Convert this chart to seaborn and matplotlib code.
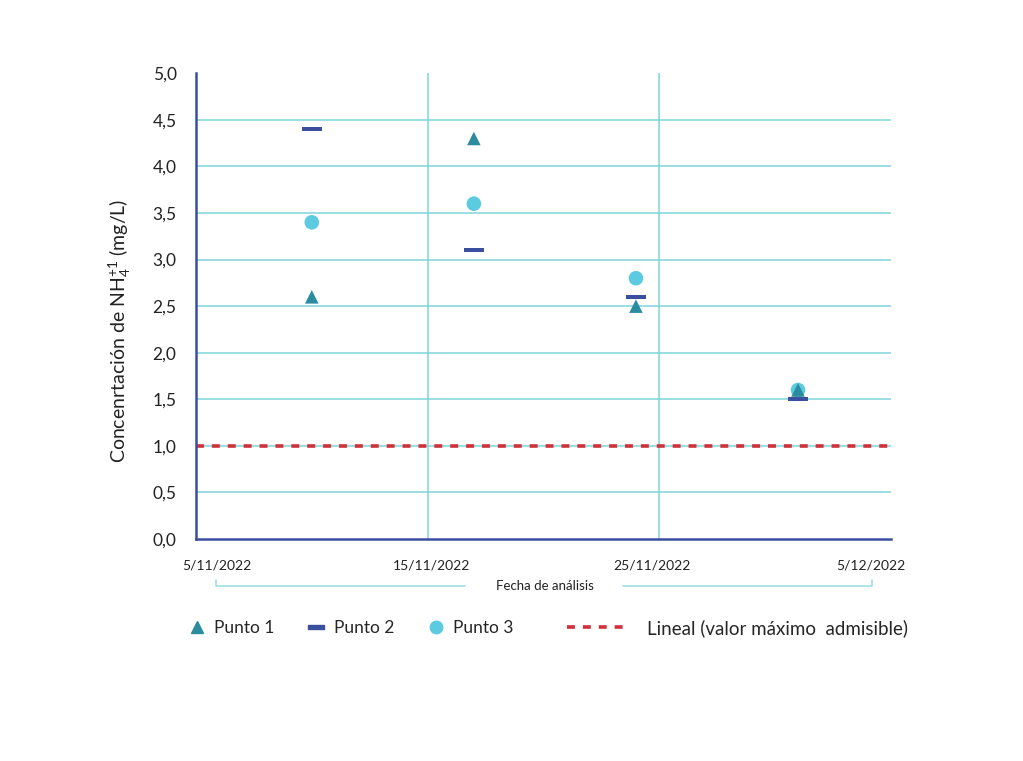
import pandas as pd
import numpy as np
import matplotlib
matplotlib.use('Agg')
import matplotlib.pyplot as plt
import matplotlib.transforms as mtransforms
from matplotlib.path import Path
from matplotlib.lines import Line2D
import seaborn as sns

# data
fechas = ['2022-11-10', '2022-11-17', '2022-11-24', '2022-12-01']
punto_1 = [2.6, 4.3, 2.5, 1.6]
punto_2 = [4.4, 3.1, 2.6, 1.5]
punto_3 = [3.4, 3.6, 2.8, 1.6]
limite = 1.0

x_ticks = ['2022-11-05', '2022-11-15', '2022-11-25', '2022-12-05']
x_labels = ['5/11/2022', '15/11/2022', '25/11/2022', '5/12/2022']
y_ticks = [0, 0.5, 1.0, 1.5, 2.0, 2.5, 3.0, 3.5, 4.0, 4.5, 5.0]

df = pd.DataFrame({'fecha': pd.to_datetime(fechas), 'Punto 1': punto_1,
                   'Punto 2': punto_2, 'Punto 3': punto_3})

sns.set_style('white')
plt.rcParams['font.family'] = ['Lato', 'DejaVu Sans']
plt.rcParams['mathtext.fontset'] = 'custom'
plt.rcParams['mathtext.rm'] = 'Lato'
plt.rcParams['mathtext.it'] = 'Lato'

c1 = '#2a8c9e'
c2 = '#3a4f9e'
c3 = '#5ccadf'
c_lim = '#d0303a'
c_grid = '#7fd4d9'

dash = Path([(-1, -0.2), (1, -0.2), (1, 0.2), (-1, 0.2), (-1, -0.2)],
            [Path.MOVETO, Path.LINETO, Path.LINETO, Path.LINETO, Path.CLOSEPOLY])

fig = plt.figure(figsize=(10.23, 7.61), dpi=100)
ax = fig.add_axes([0.1916, 0.2917, 0.679, 0.612])

xt = pd.to_datetime(x_ticks)
ax.set_xlim(xt[0], xt[-1])
ax.set_ylim(0, 5)

# grid lines
for y in y_ticks[1:-1]:
    ax.axhline(y, color=c_grid, lw=1.1, zorder=0)
for x in xt[1:-1]:
    ax.axvline(x, color=c_grid, lw=1.1, zorder=0)

ax.axhline(limite, color=c_lim, lw=2.6, ls=(0, (2.2, 2.2)), zorder=1)

sns.scatterplot(data=df, x='fecha', y='Punto 3', ax=ax, marker='o', s=110,
                color=c3, edgecolor='none', zorder=3)
sns.scatterplot(data=df, x='fecha', y='Punto 1', ax=ax, marker='^', s=95,
                color=c1, edgecolor='none', zorder=4)
sns.scatterplot(data=df, x='fecha', y='Punto 2', ax=ax, marker=dash, s=215,
                color=c2, edgecolor='none', zorder=5)

ax.set_yticks(y_ticks)
ax.set_yticklabels([f'{v:.1f}'.replace('.', ',') for v in y_ticks], fontsize=12.5, color='#222222')
ax.set_xticks(xt)
ax.set_xticklabels(x_labels, fontsize=10, color='#222222')
ax.tick_params(axis='both', length=0)
ax.tick_params(axis='x', pad=15)
ax.tick_params(axis='y', pad=14)

# shift x labels like in the original
for lab, dx in zip(ax.get_xticklabels(), [21, 4, -7, -20]):
    lab.set_transform(lab.get_transform() + mtransforms.ScaledTranslation(dx / 100, 0, fig.dpi_scale_trans))

ax.set_xlabel('')
ax.set_ylabel('Concenrtación de NH$_4^{+1}$ (mg/L)', fontsize=14, color='#222222')
ax.yaxis.set_label_coords(-0.09, 0.446)

for s in ['top', 'right']:
    ax.spines[s].set_visible(False)
for s in ['left', 'bottom']:
    ax.spines[s].set_color(c2)
    ax.spines[s].set_linewidth(1.8)

# bracket with axis title
br_y = -0.101
tr = ax.transAxes
ax.add_line(Line2D([0.029, 0.029, 0.387], [br_y + 0.013, br_y, br_y], transform=tr,
                   color='#a6e0e6', lw=1.3, clip_on=False))
ax.add_line(Line2D([0.614, 0.973, 0.973], [br_y, br_y, br_y + 0.013], transform=tr,
                   color='#a6e0e6', lw=1.3, clip_on=False))
ax.text(0.503, br_y, 'Fecha de análisis', transform=tr, ha='center', va='center',
        fontsize=9.5, color='#222222')

h1 = Line2D([], [], marker='^', ls='none', color=c1, markersize=8)
h2 = Line2D([], [], marker=dash, ls='none', color=c2, markersize=12)
h3 = Line2D([], [], marker='o', ls='none', color=c3, markersize=9)
h4 = Line2D([], [], color=c_lim, lw=2.6, ls=(0, (2.2, 2.2)))

fig.legend([h1, h2, h3], ['Punto 1', 'Punto 2', 'Punto 3'], ncol=3, frameon=False,
           loc='center', bbox_to_anchor=(0.343, 0.175), fontsize=12.5,
           handlelength=1.0, handletextpad=0.5, columnspacing=1.9)
fig.legend([h4], ['Lineal (valor máximo  admisible)'], frameon=False,
           loc='center', bbox_to_anchor=(0.721, 0.175), fontsize=13.5,
           handlelength=3.1, handletextpad=1.2)

fig.savefig('out.png', dpi=100)
